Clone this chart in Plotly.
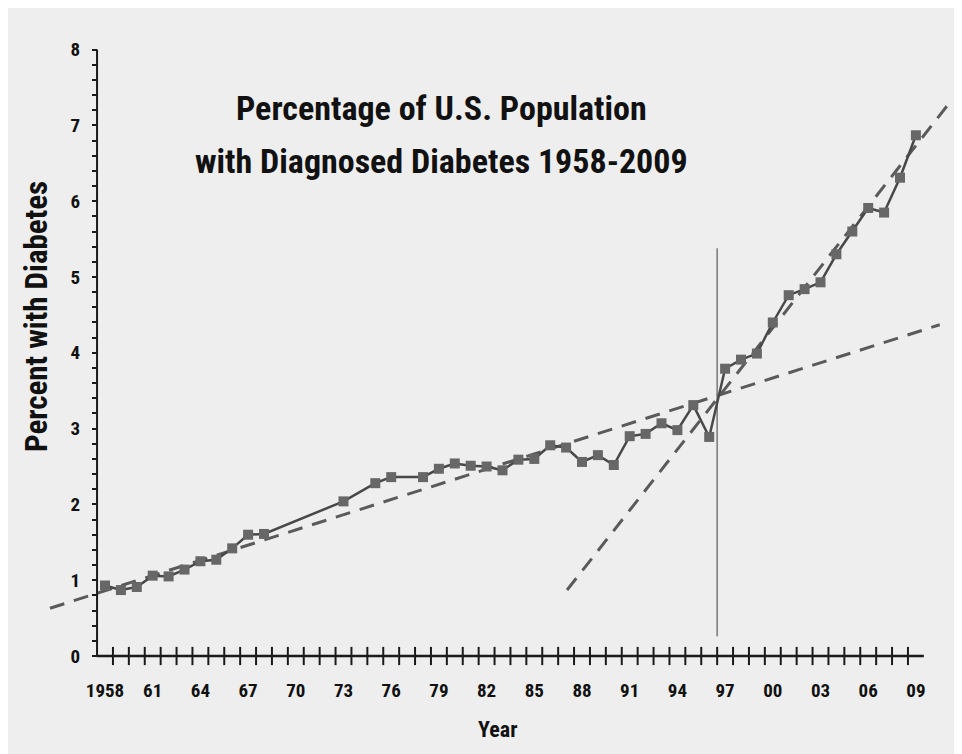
import plotly.graph_objects as go

# ---- data ----
years = [1958, 1959, 1960, 1961, 1962, 1963, 1964, 1965, 1966, 1967, 1968,
         1973, 1975, 1976, 1978, 1979, 1980, 1981, 1982, 1983, 1984, 1985,
         1986, 1987, 1988, 1989, 1990, 1991, 1992, 1993, 1994, 1995, 1996,
         1997, 1998, 1999, 2000, 2001, 2002, 2003, 2004, 2005, 2006, 2007,
         2008, 2009]
percent = [0.93, 0.87, 0.91, 1.06, 1.05, 1.14, 1.25, 1.27, 1.42, 1.60, 1.61,
           2.04, 2.28, 2.36, 2.36, 2.47, 2.54, 2.51, 2.50, 2.45, 2.59, 2.60,
           2.78, 2.75, 2.56, 2.65, 2.52, 2.90, 2.93, 3.07, 2.98, 3.31, 2.89,
           3.79, 3.91, 3.99, 4.40, 4.76, 4.84, 4.93, 5.30, 5.60, 5.91, 5.85,
           6.31, 6.87]

# trend lines (endpoints in data units)
trend1_x = [1954.54, 2010.5]
trend1_y = [0.63, 4.37]
trend2_x = [1987.06, 2011.27]
trend2_y = [0.87, 7.34]

# breakpoint marker
break_x = [1996.5, 1996.5]
break_y = [0.26, 5.38]

# axis ticks / labels
xtick_vals = list(range(1958, 2010, 3))
xtick_text = ["1958", "61", "64", "67", "70", "73", "76", "79", "82", "85",
              "88", "91", "94", "97", "00", "03", "06", "09"]
xminor_vals = [y + 0.5 for y in range(1958, 2009)]
ytick_vals = list(range(0, 9))
yminor_vals = [round(i * 0.2, 1) for i in range(0, 41) if i % 5 != 0]
x_axis_span = [1957.5, 2009.5]
y_axis_span = [0, 8]

# ---- layout geometry (page body adds an 8px margin) ----
OFF = 8
W, H = 962 - OFF, 754 - OFF
px_per_year = 15.9
x0_px = 105 - OFF          # pixel of 1958
px_per_unit = 75.8
y0_px = 656 - OFF          # pixel of 0
xr = [1958 - x0_px / px_per_year, 1958 + (W - x0_px) / px_per_year]
yr = [(y0_px - H) / px_per_unit, y0_px / px_per_unit]


def px(x):
    return (x - OFF) / W


def py(y):
    return 1 - (y - OFF) / H


FONT = "Liberation Sans Narrow, Arial Narrow, Roboto Condensed, Liberation Sans, Arial, sans-serif"
DASH = "15px,10px"
fig = go.Figure()

# trend lines
fig.add_trace(go.Scatter(x=trend1_x, y=trend1_y, mode="lines",
                         line=dict(color="#5a5a5a", width=3, dash=DASH),
                         hoverinfo="skip", showlegend=False))
fig.add_trace(go.Scatter(x=trend2_x, y=trend2_y, mode="lines",
                         line=dict(color="#5a5a5a", width=3, dash=DASH),
                         hoverinfo="skip", showlegend=False))
# vertical breakpoint
fig.add_trace(go.Scatter(x=break_x, y=break_y, mode="lines",
                         line=dict(color="#777777", width=1.5),
                         hoverinfo="skip", showlegend=False))
# data series
fig.add_trace(go.Scatter(x=years, y=percent, mode="lines+markers",
                         line=dict(color="#484848", width=2.5),
                         marker=dict(symbol="square", size=10, color="#676767"),
                         showlegend=False))
# axis lines
fig.add_trace(go.Scatter(x=x_axis_span, y=[0, 0], mode="lines",
                         line=dict(color="#1a1a1a", width=2.5),
                         hoverinfo="skip", showlegend=False))
fig.add_trace(go.Scatter(x=[x_axis_span[0]] * 2, y=y_axis_span, mode="lines",
                         line=dict(color="#1a1a1a", width=2),
                         hoverinfo="skip", showlegend=False))
# x tick marks crossing the axis
fig.add_trace(go.Scatter(x=xminor_vals, y=[0] * len(xminor_vals), mode="markers",
                         marker=dict(symbol="line-ns", size=13,
                                     line=dict(color="#1a1a1a", width=2)),
                         hoverinfo="skip", showlegend=False))

fig.update_layout(
    width=W, height=H,
    margin=dict(l=0, r=0, t=0, b=0),
    paper_bgcolor="#eeeeee",
    plot_bgcolor="rgba(0,0,0,0)",
    font=dict(family=FONT, color="#111111"),
    xaxis=dict(range=xr, showgrid=False, zeroline=False, showline=False,
               anchor="free", position=(H - y0_px) / H,
               tickmode="array", tickvals=xtick_vals, ticktext=xtick_text,
               ticks="outside", ticklen=17, tickcolor="rgba(0,0,0,0)",
               tickfont=dict(size=19, family=FONT, weight="bold", color="#111111")),
    yaxis=dict(range=yr, showgrid=False, zeroline=False, showline=False,
               anchor="free", position=(97 - OFF) / W,
               tickmode="array", tickvals=ytick_vals,
               ticks="outside", ticklen=5, tickwidth=2, tickcolor="#1a1a1a",
               minor=dict(tickmode="array", tickvals=yminor_vals, ticks="outside",
                          ticklen=5, tickwidth=1.5, tickcolor="#1a1a1a"),
               ticklabelstandoff=8,
               tickfont=dict(size=19, family=FONT, weight="bold", color="#111111")),
    shapes=[dict(type="rect", xref="paper", yref="paper", layer="below",
                 x0=px(956), x1=1.01, y0=-0.01, y1=1.01,
                 fillcolor="white", line=dict(width=0))],
    annotations=[
        dict(text="Percentage of U.S. Population", xref="paper", yref="paper",
             x=px(441), y=py(108), showarrow=False, xanchor="center", yanchor="middle",
             font=dict(size=34, family=FONT, weight="bold", color="#111111")),
        dict(text="with Diagnosed Diabetes 1958-2009", xref="paper", yref="paper",
             x=px(441), y=py(161), showarrow=False, xanchor="center", yanchor="middle",
             font=dict(size=34, family=FONT, weight="bold", color="#111111")),
        dict(text="Percent with Diabetes", xref="paper", yref="paper",
             x=px(37), y=py(317), showarrow=False, textangle=-90,
             xanchor="center", yanchor="middle",
             font=dict(size=31, family=FONT, weight="bold", color="#111111")),
        dict(text="Year", xref="paper", yref="paper",
             x=px(497), y=py(729), showarrow=False,
             xanchor="center", yanchor="middle",
             font=dict(size=22, family=FONT, weight="bold", color="#111111")),
    ],
)

fig.write_html("out.html")
